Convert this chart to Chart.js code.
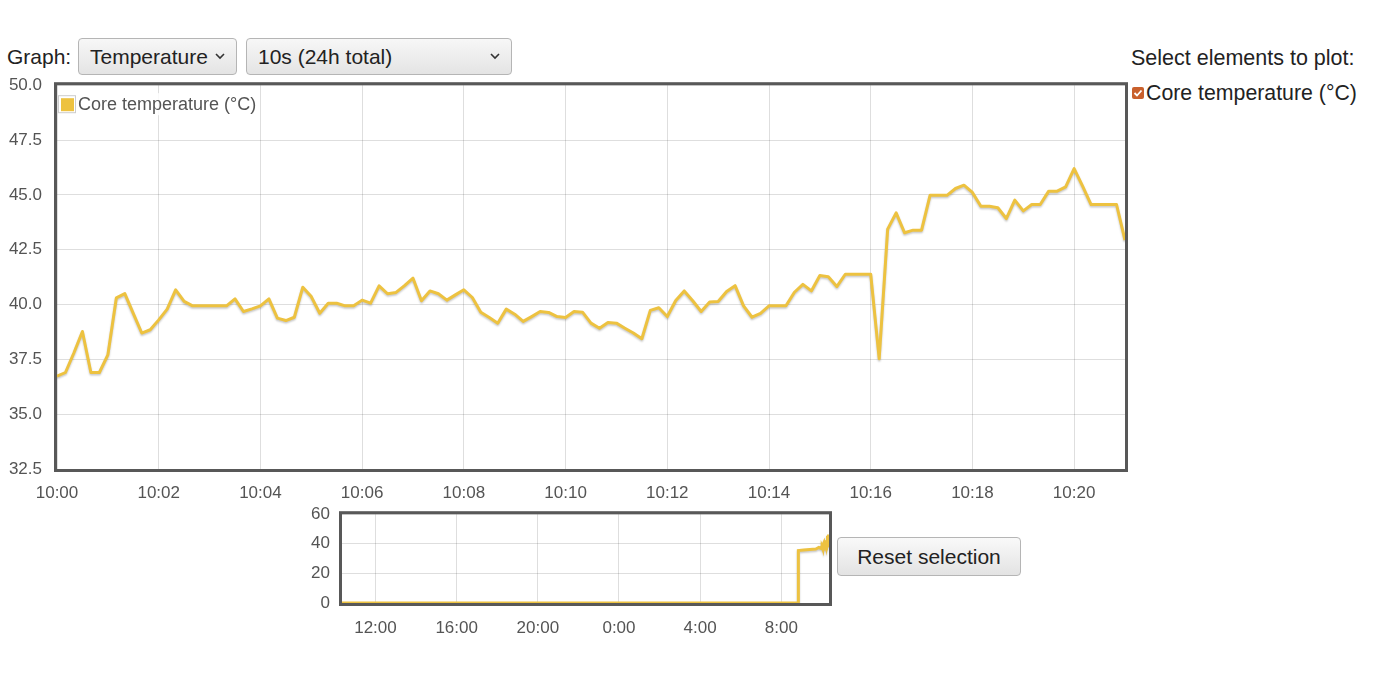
<!DOCTYPE html>
<html>
<head>
<meta charset="utf-8">
<script src="https://cdn.jsdelivr.net/npm/chart.js@4.4.1/dist/chart.umd.min.js"></script>
<style>
  html, body { margin: 0; padding: 0; background: #fff; }
  body { width: 1396px; height: 673px; position: relative; overflow: hidden;
         font-family: "Liberation Sans", Arial, sans-serif; color: #222; }
  .lbl { position: absolute; font-size: 21px; line-height: 24px; }
  .sel { position: absolute; box-sizing: border-box; height: 37px; border: 1px solid #b5b5b5;
         border-radius: 4px; background: linear-gradient(#f7f7f7, #e4e4e4);
         font-size: 21px; line-height: 35px; padding-left: 11px; color: #222; }
  .sel svg { position: absolute; top: 14px; }
  .btn { position: absolute; box-sizing: border-box; border: 1px solid #b5b5b5; border-radius: 4px;
         background: linear-gradient(#f9f9f9, #e3e3e3); font-size: 21px; text-align: center; color: #222; }
  .cb { position: absolute; width: 12px; height: 12px; border-radius: 2px; background: #c9602c; }
  #mainWrap { position: absolute; left: 0; top: 60px; width: 1140px; height: 450px; }
  #ovWrap { position: absolute; left: 280px; top: 492px; width: 560px; height: 148px; }
</style>
</head>
<body>
<div class="lbl" style="left:7px; top:45px;">Graph:</div>
<div class="sel" style="left:78px; top:38px; width:159px;">Temperature
  <svg style="right:11px" width="10" height="7" viewBox="0 0 10 7"><path d="M1 1 L5 5 L9 1" stroke="#333" stroke-width="1.6" fill="none"/></svg></div>
<div class="sel" style="left:246px; top:38px; width:266px;">10s (24h total)
  <svg style="right:11px" width="10" height="7" viewBox="0 0 10 7"><path d="M1 1 L5 5 L9 1" stroke="#333" stroke-width="1.6" fill="none"/></svg></div>
<div class="lbl" style="left:1131px; top:46px; font-size:21.5px;">Select elements to plot:</div>
<div class="cb" style="left:1132px; top:87px;">
  <svg width="12" height="12" viewBox="0 0 12 12" style="position:absolute;left:0;top:0"><path d="M2.5 6 L5 8.5 L9.5 3.5" stroke="#fff" stroke-width="1.8" fill="none"/></svg></div>
<div class="lbl" style="left:1146px; top:81px; font-size:21.3px;">Core temperature (°C)</div>
<div class="btn" style="left:837px; top:537px; width:184px; height:39px; line-height:37px;">Reset selection</div>

<div id="mainWrap"><canvas id="main"></canvas></div>
<div id="ovWrap"><canvas id="ov"></canvas></div>

<script>
// ---- data ----
const seriesName = 'Core temperature (°C)';
const sampleSeconds = 10;           // one sample every 10 s, starting 10:00:00
const coreTemp = [
  36.73, 36.9, 37.8, 38.77, 36.9, 36.9, 37.7, 40.3, 40.5, 39.6,
  38.7, 38.85, 39.3, 39.79, 40.67, 40.14, 39.94, 39.94, 39.94, 39.94,
  39.94, 40.26, 39.68, 39.8, 39.94, 40.26, 39.38, 39.27, 39.42, 40.79,
  40.36, 39.6, 40.06, 40.06, 39.94, 39.94, 40.2, 40.06, 40.85, 40.49,
  40.55, 40.86, 41.2, 40.17, 40.62, 40.49, 40.2, 40.44, 40.67, 40.32,
  39.65, 39.41, 39.15, 39.79, 39.56, 39.23, 39.45, 39.68, 39.64, 39.45,
  39.41, 39.68, 39.65, 39.15, 38.92, 39.18, 39.15, 38.92, 38.7, 38.44,
  39.73, 39.85, 39.45, 40.18, 40.62, 40.17, 39.68, 40.11, 40.14, 40.59,
  40.86, 39.94, 39.42, 39.6, 39.94, 39.94, 39.94, 40.56, 40.92, 40.62,
  41.32, 41.27, 40.82, 41.38, 41.38, 41.38, 41.38, 37.53, 43.44, 44.18,
  43.27, 43.39, 43.39, 44.98, 44.98, 44.98, 45.29, 45.44, 45.11, 44.48,
  44.48, 44.41, 43.92, 44.76, 44.27, 44.56, 44.56, 45.17, 45.17, 45.36,
  46.2, 45.4, 44.56, 44.56, 44.56, 44.56, 42.94
];
const xTickLabels = ['10:00','10:02','10:04','10:06','10:08','10:10','10:12','10:14','10:16','10:18','10:20'];
const yTickLabels = ['32.5','35.0','37.5','40.0','42.5','45.0','47.5','50.0'];

// overview (24 h window, hours counted from midnight of the previous day)
const ovHours  = [10.35, 32.83, 32.84, 33.1, 33.4, 33.7, 33.85, 33.95];
const ovValues = [0, 0, 35.4, 35.8, 36.2, 36.5, 37.5, 37.0];
const ovTickLabels = ['12:00','16:00','20:00','0:00','4:00','8:00'];
const ovTickHours  = [12, 16, 20, 24, 28, 32];
const ovRange = [10.35, 34.35];

// ---- rendering ----
const LINE = '#edc240';
const TICK = '#545454';
const GRID = 'rgba(0,0,0,0.13)';
const FONT = { family: '"Liberation Sans", Arial, sans-serif', size: 17 };

const shadowPlugin = {
  id: 'shadow',
  beforeDatasetDraw(chart) {
    const c = chart.ctx; c.save();
    c.shadowColor = 'rgba(0,0,0,0.22)'; c.shadowBlur = 2; c.shadowOffsetX = 0; c.shadowOffsetY = 1.5;
  },
  afterDatasetDraw(chart) { chart.ctx.restore(); }
};
const borderPlugin = {
  id: 'frame',
  afterDraw(chart) {
    const a = chart.chartArea, c = chart.ctx;
    c.save(); c.strokeStyle = '#585858'; c.lineWidth = 3;
    c.strokeRect(a.left - 1.5, a.top - 1.5, a.right - a.left + 3, a.bottom - a.top + 3);
    c.restore();
  }
};
const legendPlugin = {
  id: 'innerLegend',
  afterDatasetsDraw(chart) {
    const a = chart.chartArea, c = chart.ctx;
    c.save();
    c.fillStyle = 'rgba(255,255,255,0.85)';
    c.fillRect(a.left + 1, a.top + 8, 202, 22);
    c.strokeStyle = '#cccccc'; c.lineWidth = 1;
    c.strokeRect(a.left + 1.5, a.top + 10.5, 17, 17);
    c.fillStyle = LINE;
    c.fillRect(a.left + 4, a.top + 13, 13, 13);
    c.fillStyle = TICK; c.font = '18px "Liberation Sans", Arial, sans-serif';
    c.textBaseline = 'middle';
    c.fillText(seriesName, a.left + 21, a.top + 20);
    c.restore();
  }
};

new Chart(document.getElementById('main'), {
  type: 'line',
  data: {
    datasets: [{
      label: seriesName,
      data: coreTemp.map((v, i) => ({ x: i * sampleSeconds, y: v })),
      borderColor: LINE, borderWidth: 3, pointRadius: 0, tension: 0, fill: false,
      borderJoinStyle: 'round'
    }]
  },
  options: {
    responsive: true, maintainAspectRatio: false, animation: false,
    layout: { padding: { top: 4, right: 15, left: 0, bottom: 0 } },
    plugins: { legend: { display: false }, tooltip: { enabled: false } },
    scales: {
      x: {
        type: 'linear', min: 0, max: (coreTemp.length - 1) * sampleSeconds,
        afterBuildTicks(s) { s.ticks = xTickLabels.map((_, i) => ({ value: i * 120 })); },
        ticks: { callback: (v) => xTickLabels[Math.round(v / 120)], color: TICK, font: FONT, padding: 14, maxRotation: 0, autoSkip: false },
        grid: { color: GRID, drawTicks: false, lineWidth: 1 },
        border: { display: false },
        afterFit(s) { s.height = 41; }
      },
      y: {
        min: 32.5, max: 50,
        afterBuildTicks(s) { s.ticks = yTickLabels.map(t => ({ value: parseFloat(t) })); },
        ticks: { callback: (v) => v.toFixed(1), color: TICK, font: FONT, padding: 15 },
        grid: { color: GRID, drawTicks: false, lineWidth: 1 },
        border: { display: false },
        afterFit(s) { s.width = 57; }
      }
    }
  },
  plugins: [shadowPlugin, legendPlugin, borderPlugin]
});

const ovData = ovHours.map((h, i) => ({ x: h, y: ovValues[i] }))
  .concat(coreTemp.map((v, i) => ({ x: 34 + i * sampleSeconds / 3600, y: v })));

new Chart(document.getElementById('ov'), {
  type: 'line',
  data: { datasets: [{ data: ovData, borderColor: LINE, borderWidth: 3, pointRadius: 0, tension: 0, fill: false }] },
  options: {
    responsive: true, maintainAspectRatio: false, animation: false,
    layout: { padding: { top: 3, right: 11, left: 0, bottom: 0 } },
    plugins: { legend: { display: false }, tooltip: { enabled: false } },
    scales: {
      x: {
        type: 'linear', min: ovRange[0], max: ovRange[1],
        afterBuildTicks(s) { s.ticks = ovTickHours.map(h => ({ value: h })); },
        ticks: { callback: (v) => ovTickLabels[ovTickHours.indexOf(v)], color: TICK, font: FONT, padding: 15, maxRotation: 0, autoSkip: false },
        grid: { color: GRID, drawTicks: false },
        border: { display: false },
        afterFit(s) { s.height = 37; }
      },
      y: {
        min: 0, max: 60,
        afterBuildTicks(s) { s.ticks = [0, 20, 40, 60].map(v => ({ value: v })); },
        ticks: { color: TICK, font: FONT, padding: 12 },
        grid: { color: GRID, drawTicks: false },
        border: { display: false },
        afterFit(s) { s.width = 62; }
      }
    }
  },
  plugins: [shadowPlugin, borderPlugin]
});
</script>
</body>
</html>
